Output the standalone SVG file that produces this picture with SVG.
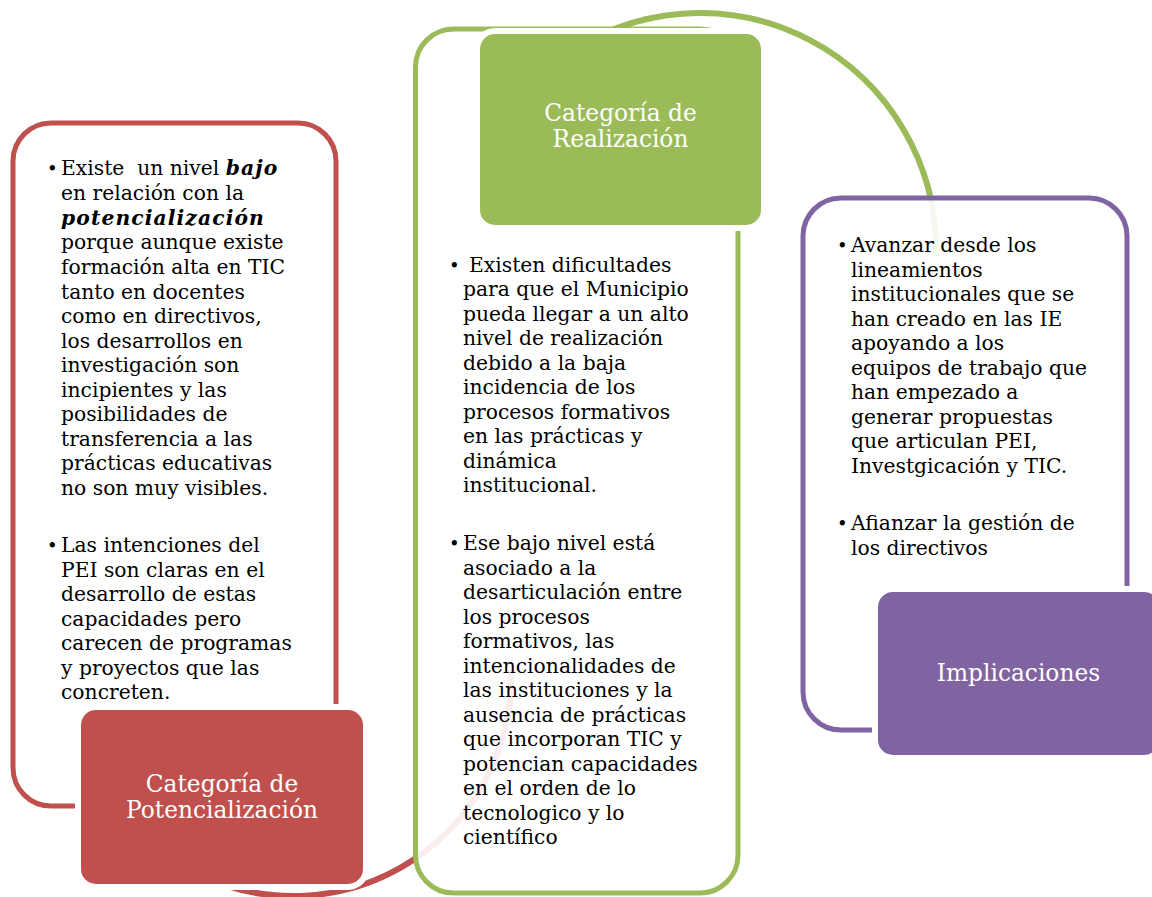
<svg xmlns="http://www.w3.org/2000/svg" width="1152" height="897" viewBox="0 0 1152 897">
<style>
.frame{fill:#ffffff;fill-opacity:0.9;stroke-width:5}
.box{stroke:#ffffff;stroke-width:12;paint-order:stroke}
.t{font-family:"DejaVu Serif","Liberation Serif",serif;font-size:20.3px;fill:#000}
.b{font-family:"DejaVu Serif","Liberation Serif",serif;font-size:18px;fill:#000}
.h{font-family:"DejaVu Serif","Liberation Serif",serif;font-size:23.3px;fill:#ffffff;text-anchor:middle}
.bi{font-weight:bold;font-style:italic;letter-spacing:1.1px}
</style>
<rect width="1152" height="897" fill="#ffffff"/>
<g id="connectors" fill="none" stroke-width="6">
<path d="M 200 875.2 A 218 218 0 0 0 510.85 670" stroke="#C0504D"/>
<path d="M 560 59 A 236 236 0 0 1 935.86 257" stroke="#9BBB59"/>
</g>
<g id="potencializacion">
<rect class="frame" x="13" y="123" width="323" height="683" rx="38" stroke="#C0504D"/>
<text class="b"><tspan x="47" y="174.5">•</tspan><tspan x="47" y="551.5">•</tspan></text>
<text class="t" xml:space="preserve"><tspan x="61" y="175">Existe  un nivel <tspan class="bi">bajo</tspan></tspan><tspan x="61" y="200">en relación con la</tspan><tspan x="61" y="224.5" class="bi">potencialización</tspan><tspan x="61" y="249">porque aunque existe</tspan><tspan x="61" y="274">formación alta en TIC</tspan><tspan x="61" y="298.5">tanto en docentes</tspan><tspan x="61" y="323">como en directivos,</tspan><tspan x="61" y="347.5">los desarrollos en</tspan><tspan x="61" y="372">investigación son</tspan><tspan x="61" y="396.5">incipientes y las</tspan><tspan x="61" y="421">posibilidades de</tspan><tspan x="61" y="445.5">transferencia a las</tspan><tspan x="61" y="470">prácticas educativas</tspan><tspan x="61" y="494.5">no son muy visibles.</tspan></text>
<text class="t"><tspan x="61" y="552">Las intenciones del</tspan><tspan x="61" y="576.5">PEI son claras en el</tspan><tspan x="61" y="601">desarrollo de estas</tspan><tspan x="61" y="625.5">capacidades pero</tspan><tspan x="61" y="650">carecen de programas</tspan><tspan x="61" y="674.5">y proyectos que las</tspan><tspan x="61" y="699">concreten.</tspan></text>
<rect class="box" x="81" y="710" width="282" height="174" rx="15" fill="#C0504D"/>
<text class="h"><tspan x="222" y="792">Categoría de</tspan><tspan x="222" y="818">Potencialización</tspan></text>
</g>
<g id="realizacion">
<rect class="frame" x="415.5" y="29" width="322.5" height="864" rx="38" stroke="#9BBB59"/>
<text class="b"><tspan x="449" y="271.5">•</tspan><tspan x="449" y="549.5">•</tspan></text>
<text class="t"><tspan x="469" y="272">Existen dificultades</tspan><tspan x="463" y="296">para que el Municipio</tspan><tspan x="463" y="320.5">pueda llegar a un alto</tspan><tspan x="463" y="345">nivel de realización</tspan><tspan x="463" y="369.5">debido a la baja</tspan><tspan x="463" y="394">incidencia de los</tspan><tspan x="463" y="418.5">procesos formativos</tspan><tspan x="463" y="443">en las prácticas y</tspan><tspan x="463" y="467.5">dinámica</tspan><tspan x="463" y="492">institucional.</tspan></text>
<text class="t"><tspan x="463" y="550">Ese bajo nivel está</tspan><tspan x="463" y="574.5">asociado a la</tspan><tspan x="463" y="599">desarticulación entre</tspan><tspan x="463" y="623.5">los procesos</tspan><tspan x="463" y="648">formativos, las</tspan><tspan x="463" y="672.5">intencionalidades de</tspan><tspan x="463" y="697">las instituciones y la</tspan><tspan x="463" y="721.5">ausencia de prácticas</tspan><tspan x="463" y="746">que incorporan TIC y</tspan><tspan x="463" y="770.5">potencian capacidades</tspan><tspan x="463" y="795">en el orden de lo</tspan><tspan x="463" y="819.5">tecnologico y lo</tspan><tspan x="463" y="844">científico</tspan></text>
<rect class="box" x="480" y="34" width="281" height="191" rx="15" fill="#9BBB59"/>
<text class="h"><tspan x="620.5" y="121">Categoría de</tspan><tspan x="620.5" y="147">Realización</tspan></text>
</g>
<g id="implicaciones">
<rect class="frame" x="803" y="198" width="324" height="532" rx="38" stroke="#8064A2"/>
<text class="b"><tspan x="837" y="251.5">•</tspan><tspan x="837" y="529.5">•</tspan></text>
<text class="t"><tspan x="851" y="252">Avanzar desde los</tspan><tspan x="851" y="276.5">lineamientos</tspan><tspan x="851" y="301">institucionales que se</tspan><tspan x="851" y="325.5">han creado en las IE</tspan><tspan x="851" y="350">apoyando a los</tspan><tspan x="851" y="374.5">equipos de trabajo que</tspan><tspan x="851" y="399">han empezado a</tspan><tspan x="851" y="423.5">generar propuestas</tspan><tspan x="851" y="448">que articulan PEI,</tspan><tspan x="851" y="472.5">Investgicación y TIC.</tspan></text>
<text class="t"><tspan x="851" y="530">Afianzar la gestión de</tspan><tspan x="851" y="554.5">los directivos</tspan></text>
<rect class="box" x="878" y="592" width="281" height="163" rx="15" fill="#8064A2"/>
<text class="h"><tspan x="1018.5" y="681">Implicaciones</tspan></text>
</g>
</svg>
